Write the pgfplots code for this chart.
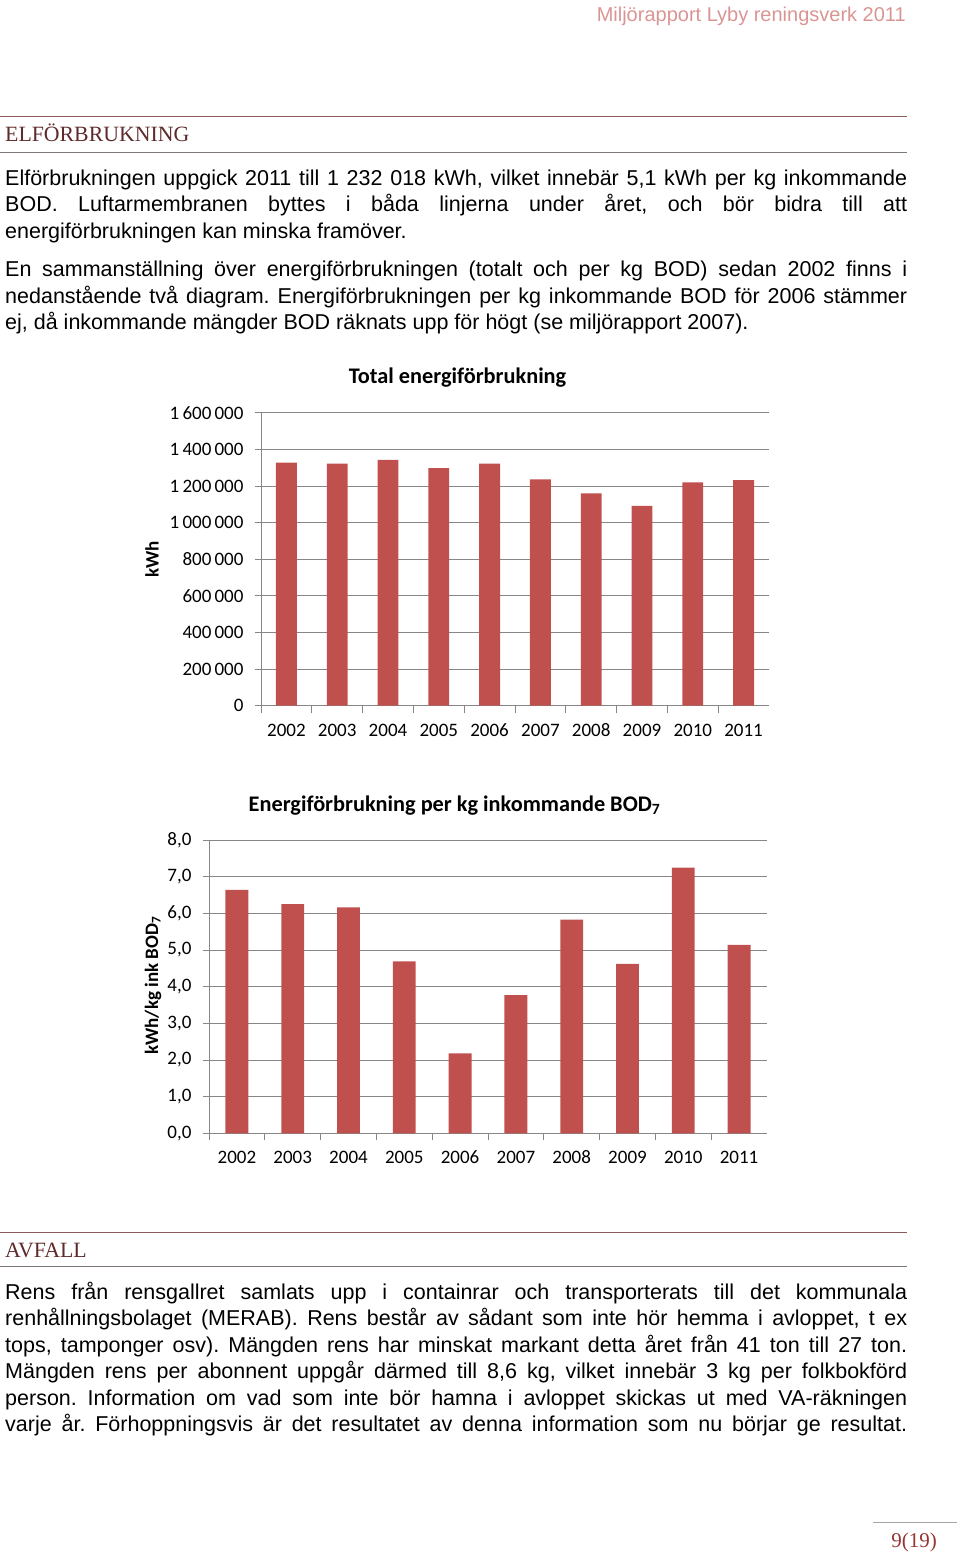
\documentclass[border=0pt]{standalone}
\usepackage{fontspec}
\setmainfont{Liberation Sans}
\newfontfamily\calibri{Carlito}
\newfontfamily\serifh{Liberation Serif}
\usepackage{pgfplots}
\pgfplotsset{compat=1.18}
\frenchspacing
\definecolor{barred}{HTML}{C0504D}
\definecolor{gridgray}{HTML}{868686}
\definecolor{headred}{HTML}{5F2A2B}
\definecolor{toprule}{HTML}{8C5A5C}
\definecolor{botrule}{HTML}{80787A}
\definecolor{hdrpink}{HTML}{D99594}
\definecolor{pagered}{HTML}{943634}
\newcommand{\bodyfont}{\fontsize{21.5}{26.5}\selectfont}
\newcommand{\jl}[2]{\node[anchor=base west, inner sep=0, font=\bodyfont] at (5,-#1) {\makebox[902pt][s]{#2}};}
\newcommand{\nl}[2]{\node[anchor=base west, inner sep=0, font=\bodyfont] at (5,-#1) {#2};}
\pgfplotsset{
  pagechart/.style={
    scale only axis, anchor=south west,
    xmin=-0.5, xmax=9.5, ymin=0,
    ybar, bar width=0.41,
    axis lines=left, axis line style={-, draw=gridgray, line width=0.8pt},
    ymajorgrids, grid style={draw=gridgray, line width=0.8pt},
    tick align=outside, major tick length=6pt, minor tick length=7pt,
    ytick style={draw=gridgray, line width=0.8pt},
    major x tick style={draw=none},
    minor x tick style={draw=gridgray, line width=0.8pt},
    xtick={0,1,2,3,4,5,6,7,8,9},
    xticklabels={2002,2003,2004,2005,2006,2007,2008,2009,2010,2011},
    minor xtick={-0.5,0.5,1.5,2.5,3.5,4.5,5.5,6.5,7.5,8.5},
    tick label style={font=\calibri\fontsize{19}{19}\selectfont, text=black},
    xticklabel style={text height=12pt, text depth=0pt, yshift=-9pt},
    yticklabel style={xshift=-8pt},
    scaled y ticks=false,
  }
}
\begin{document}
\begin{tikzpicture}[x=1pt,y=1pt]
\path[use as bounding box] (0,0) rectangle (960,-1553);
% header
\node[anchor=base east, inner sep=0, font=\fontsize{20}{20}\selectfont, text=hdrpink] at (906,-21) {Miljörapport Lyby reningsverk 2011};
% ELFÖRBRUKNING section
\draw[toprule, line width=1pt] (0,-116) -- (907,-116);
\node[anchor=base west, inner sep=0, font=\serifh\fontsize{21.8}{21.8}\selectfont, text=headred] at (5,-141.7) {ELFÖRBRUKNING};
\draw[botrule, line width=1.5pt] (0,-152.5) -- (907,-152.5);
\jl{185}{Elförbrukningen uppgick 2011 till 1 232 018 kWh, vilket innebär 5,1 kWh per kg inkommande}
\jl{211.5}{BOD. Luftarmembranen byttes i båda linjerna under året, och bör bidra till att}
\nl{238}{energiförbrukningen kan minska framöver.}
\jl{276.5}{En sammanställning över energiförbrukningen (totalt och per kg BOD) sedan 2002 finns i}
\jl{303}{nedanstående två diagram. Energiförbrukningen per kg inkommande BOD för 2006 stämmer}
\nl{329.5}{ej, då inkommande mängder BOD räknats upp för högt (se miljörapport 2007).}
% chart 1
\node[anchor=base, inner sep=0, font=\calibri\bfseries\fontsize{22.3}{22.3}\selectfont] at (457.5,-383) {Total energiförbrukning};
\begin{axis}[pagechart,
  at={(261pt,-705.7pt)}, width=508pt, height=293pt,
  ymax=1600000,
  ytick={0,200000,400000,600000,800000,1000000,1200000,1400000,1600000},
  yticklabels={0,200\,000,400\,000,600\,000,800\,000,1\,000\,000,1\,200\,000,1\,400\,000,1\,600\,000},
  ylabel={kWh},
  every axis y label/.style={at={(axis description cs:-0.2146,0.5)}, rotate=90, anchor=center, font=\calibri\bfseries\fontsize{19}{19}\selectfont},
]
\addplot[fill=barred, draw=none] coordinates {
 (0,1328000) (1,1322000) (2,1342000) (3,1298000) (4,1322000)
 (5,1236000) (6,1160000) (7,1091000) (8,1219000) (9,1232018)};
\end{axis}
% chart 2
\node[anchor=base, inner sep=0, font=\calibri\bfseries\fontsize{22.3}{22.3}\selectfont] at (454.5,-811) {Energiförbrukning per kg inkommande BOD\textsubscript{7}};
\begin{axis}[pagechart,
  at={(209pt,-1133.3pt)}, width=558pt, height=293.3pt,
  ymax=8,
  ytick={0,1,2,3,4,5,6,7,8},
  yticklabel style={/pgf/number format/.cd, fixed, fixed zerofill, precision=1, use comma, assume math mode=true},
  ylabel={kWh/kg ink BOD\textsubscript{7}},
  every axis y label/.style={at={(axis description cs:-0.1004,0.504)}, rotate=90, anchor=center, font=\calibri\bfseries\fontsize{19}{19}\selectfont},
]
\addplot[fill=barred, draw=none] coordinates {
 (0,6.64) (1,6.25) (2,6.16) (3,4.69) (4,2.18)
 (5,3.77) (6,5.83) (7,4.62) (8,7.25) (9,5.14)};
\end{axis}
% AVFALL section
\draw[toprule, line width=1pt] (0,-1232.3) -- (907,-1232.3);
\node[anchor=base west, inner sep=0, font=\serifh\fontsize{21.8}{21.8}\selectfont, text=headred] at (5,-1257.3) {AVFALL};
\draw[botrule, line width=1.5pt] (0,-1266.7) -- (907,-1266.7);
\jl{1299}{Rens från rensgallret samlats upp i containrar och transporterats till det kommunala}
\jl{1325.5}{renhållningsbolaget (MERAB). Rens består av sådant som inte hör hemma i avloppet, t ex}
\jl{1352}{tops, tamponger osv). Mängden rens har minskat markant detta året från 41 ton till 27 ton.}
\jl{1378.5}{Mängden rens per abonnent uppgår därmed till 8,6 kg, vilket innebär 3 kg per folkbokförd}
\jl{1405}{person. Information om vad som inte bör hamna i avloppet skickas ut med VA-räkningen}
\jl{1431.5}{varje år. Förhoppningsvis är det resultatet av denna information som nu börjar ge resultat.}
% footer
\draw[gray!70, line width=0.8pt] (873,-1522.7) -- (956.7,-1522.7);
\node[anchor=base, inner sep=0, font=\serifh\fontsize{21}{21}\selectfont, text=pagered] at (914,-1547) {9(19)};
\end{tikzpicture}
\end{document}
